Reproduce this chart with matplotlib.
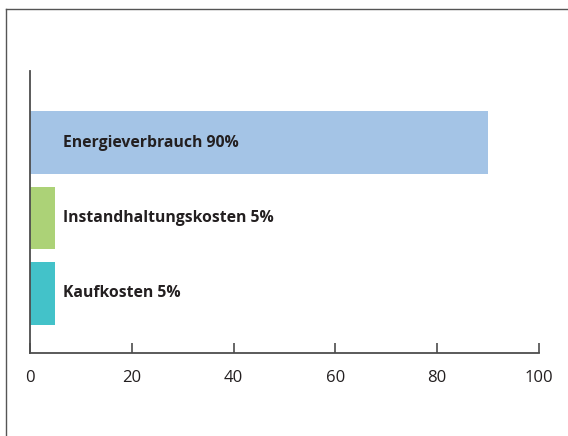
import matplotlib
matplotlib.use("Agg")
import matplotlib.pyplot as plt
from matplotlib.lines import Line2D

categories = ["Kaufkosten", "Instandhaltungskosten", "Energieverbrauch"]
values = [5, 5, 90]
colors = ["#43c2c9", "#acd277", "#a4c4e6"]
xticks = [0, 20, 40, 60, 80, 100]

plt.rcParams['font.family'] = ['Open Sans', 'DejaVu Sans']

fig = plt.figure(figsize=(5.68, 4.36), dpi=100)
ax = fig.add_axes([30/568, 1-353/436, 509/568, (353-71)/436])

ypos = list(range(len(categories)))
ax.barh(ypos, values, height=0.83, color=colors, zorder=1)
for y, c, v in zip(ypos, categories, values):
    ax.text(6.5, y, f"{c} {v}%", va='center', ha='left', fontsize=11.3,
            fontweight='bold', color='#231f20')

ax.set_xlim(0, 100)
ax.set_ylim(-0.79, 2.95)
ax.set_xticks(xticks)
ax.set_xticklabels([str(t) for t in xticks])
ax.set_yticks([])
for s in ['top', 'right']:
    ax.spines[s].set_visible(False)
for s in ['left', 'bottom']:
    ax.spines[s].set_color('#4d4d4d')
    ax.spines[s].set_linewidth(1.3)
    ax.spines[s].set_zorder(3)
ax.tick_params(axis='x', direction='in', length=7, width=1.2, color='#4d4d4d',
               labelsize=12, labelcolor='#231f20', pad=12)

# outer frame (clipped at right and bottom)
fx = 6/568
fy = 1-9/436
fig.add_artist(Line2D([fx, 1.01], [fy, fy], color='#555555', lw=1, transform=fig.transFigure))
fig.add_artist(Line2D([fx, fx], [fy, -0.01], color='#555555', lw=1, transform=fig.transFigure))

fig.savefig("out.png", dpi=100)
